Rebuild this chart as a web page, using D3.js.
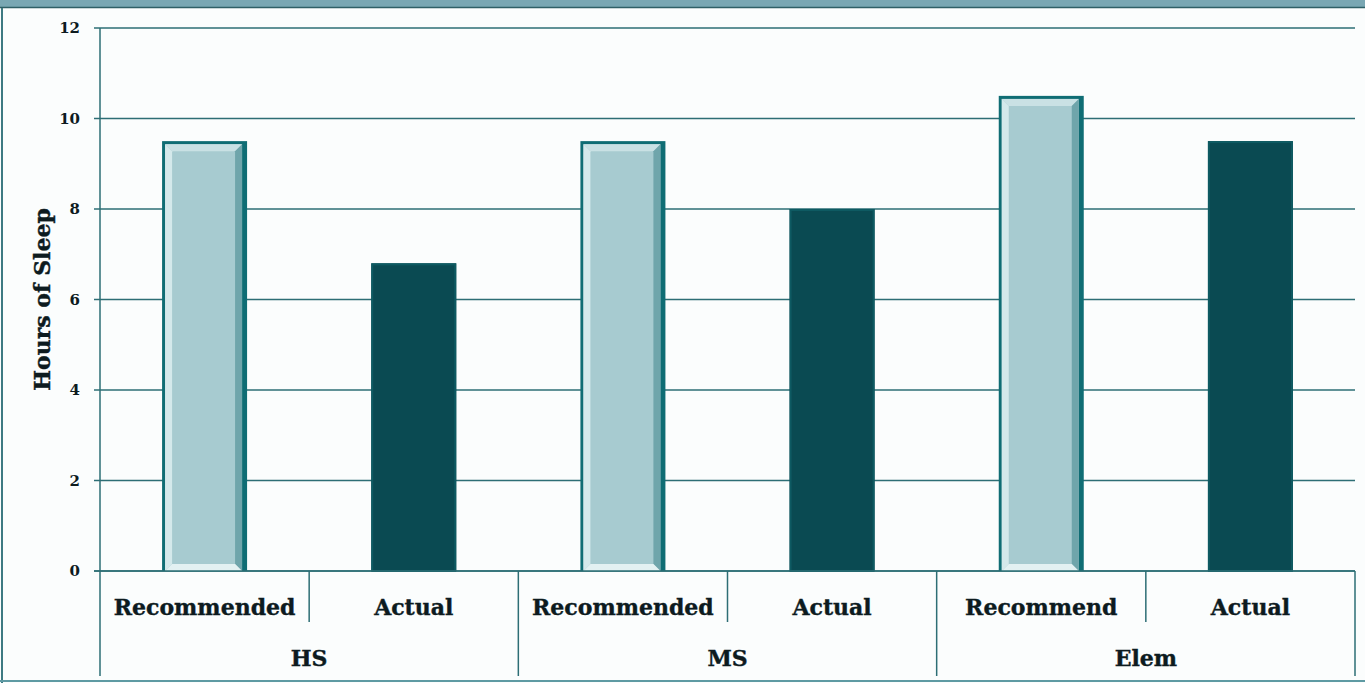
<!DOCTYPE html>
<html><head><meta charset="utf-8">
<script src="https://cdn.jsdelivr.net/npm/d3@7"></script>
<style>html,body{margin:0;padding:0;background:#fbfdfd;}svg{display:block;}</style>
</head><body><svg id="c" width="1365" height="683"></svg>
<script>
const groups = ["HS", "MS", "Elem"];
const subLabels = ["Recommended", "Actual", "Recommended", "Actual", "Recommend", "Actual"];
const kinds = ["rec", "act", "rec", "act", "rec", "act"];
const values = [9.5, 6.8, 9.5, 8.0, 10.5, 9.5];
const yTicks = [0, 2, 4, 6, 8, 10, 12];
const yTitle = "Hours of Sleep";

(function(){
const svg = d3.select("#c");
const W = 1365, H = 683;
const pL = 100, pR = 1355, pT = 28, pB = 571;
const ids = d3.range(values.length);
const x = d3.scaleBand().domain(ids).range([pL, pR]).paddingInner(0).paddingOuter(0);
const y = d3.scaleLinear().domain([0, 12]).range([pB, pT]);
const gx = d3.scaleBand().domain(groups).range([pL, pR]);
const teal = "#2d6e75";
const txt = "#0d1b1f";

// frame
svg.append("rect").attr("x",0).attr("y",0).attr("width",W).attr("height",7).attr("fill","#79a7b3");
svg.append("line").attr("x1",0).attr("x2",W).attr("y1",7.5).attr("y2",7.5).attr("stroke","#2f5f66").attr("stroke-width",1.5);
svg.append("line").attr("x1",2).attr("x2",2).attr("y1",8).attr("y2",H).attr("stroke","#3d7a82").attr("stroke-width",2);
svg.append("line").attr("x1",0).attr("x2",W).attr("y1",681).attr("y2",681).attr("stroke","#5e9aa3").attr("stroke-width",2);

// grid
svg.append("g").selectAll("line").data(yTicks).join("line")
  .attr("x1", pL - 6).attr("x2", pR).attr("y1", d => y(d)).attr("y2", d => y(d))
  .attr("stroke", teal).attr("stroke-width", 1.5);

// y axis
const ya = svg.append("g").attr("transform", `translate(${pL},0)`)
  .call(d3.axisLeft(y).tickValues(yTicks).tickSize(0).tickPadding(20));
ya.select(".domain").remove();
ya.selectAll("text").attr("font-family","DejaVu Serif, serif").attr("font-size",15).attr("font-weight","bold").attr("fill",txt);
svg.append("line").attr("x1",pL).attr("x2",pL).attr("y1",pT).attr("y2",676).attr("stroke",teal).attr("stroke-width",1.5);

svg.append("text").attr("transform", `translate(50,${(pT+pB)/2}) rotate(-90)`)
  .attr("text-anchor","middle").attr("font-family","DejaVu Serif, serif").attr("font-weight","bold")
  .attr("font-size",22).attr("fill",txt).attr("stroke",txt).attr("stroke-width",0.4).text(yTitle);

// bars
const bw = 85;
const bars = svg.append("g").selectAll("g").data(ids).join("g");
bars.each(function(i){
  const g = d3.select(this);
  const x0 = x(i) + (x.bandwidth() - bw) / 2, y0 = y(values[i]), h = y(0) - y(values[i]);
  if (kinds[i] === "rec") {
    g.append("rect").attr("x",x0).attr("y",y0).attr("width",bw).attr("height",h).attr("fill","#0f6d74");
    const b = 3, e = 7;
    const ix = x0 + b, iy = y0 + b, iw = bw - b*2 - 2, ih = h - b;
    g.append("rect").attr("x",ix).attr("y",iy).attr("width",iw).attr("height",ih).attr("fill","#a7cbd0");
    g.append("path").attr("d",`M${ix},${iy}H${ix+iw}L${ix+iw-e},${iy+e}H${ix+e}Z`).attr("fill","#c9e1e4");
    g.append("path").attr("d",`M${ix},${iy}L${ix+e},${iy+e}V${iy+ih-e}L${ix},${iy+ih}Z`).attr("fill","#d4e9eb");
    g.append("path").attr("d",`M${ix+iw},${iy}V${iy+ih}L${ix+iw-e},${iy+ih-e}V${iy+e}Z`).attr("fill","#6fa5ab");
    g.append("path").attr("d",`M${ix},${iy+ih}H${ix+iw}L${ix+iw-e},${iy+ih-e}H${ix+e}Z`).attr("fill","#e3f1f2");
  } else {
    g.append("rect").attr("x",x0).attr("y",y0).attr("width",bw).attr("height",h).attr("fill","#0a4a52");
    g.append("rect").attr("x",x0+1).attr("y",y0+1).attr("width",bw-2).attr("height",h-1)
      .attr("fill","none").attr("stroke","#0e5a62").attr("stroke-width",2);
  }
});

// baseline
svg.append("line").attr("x1",pL - 6).attr("x2",pR).attr("y1",pB).attr("y2",pB).attr("stroke",teal).attr("stroke-width",1.5);

// sub separators
svg.append("g").selectAll("line").data(ids.filter(i => i % 2 === 1)).join("line")
  .attr("x1", i => x(i)).attr("x2", i => x(i)).attr("y1", pB).attr("y2", 622)
  .attr("stroke", teal).attr("stroke-width", 1.5);
// group separators
svg.append("g").selectAll("line").data(groups).join("line")
  .attr("x1", d => gx(d) + gx.bandwidth()).attr("x2", d => gx(d) + gx.bandwidth()).attr("y1", pB).attr("y2", 676)
  .attr("stroke", teal).attr("stroke-width", 1.5);

// labels
svg.append("g").selectAll("text").data(ids).join("text")
  .attr("x", i => x(i) + x.bandwidth()/2).attr("y", 615).attr("text-anchor","middle")
  .attr("font-family","DejaVu Serif, serif").attr("font-weight","bold").attr("font-size",22)
  .attr("fill",txt).attr("stroke",txt).attr("stroke-width",0.4).text(i => subLabels[i]);
svg.append("g").selectAll("text").data(groups).join("text")
  .attr("x", d => gx(d) + gx.bandwidth()/2).attr("y", 666).attr("text-anchor","middle")
  .attr("font-family","DejaVu Serif, serif").attr("font-weight","bold").attr("font-size",22)
  .attr("fill",txt).attr("stroke",txt).attr("stroke-width",0.4).text(d => d);
})();
</script></body></html>
